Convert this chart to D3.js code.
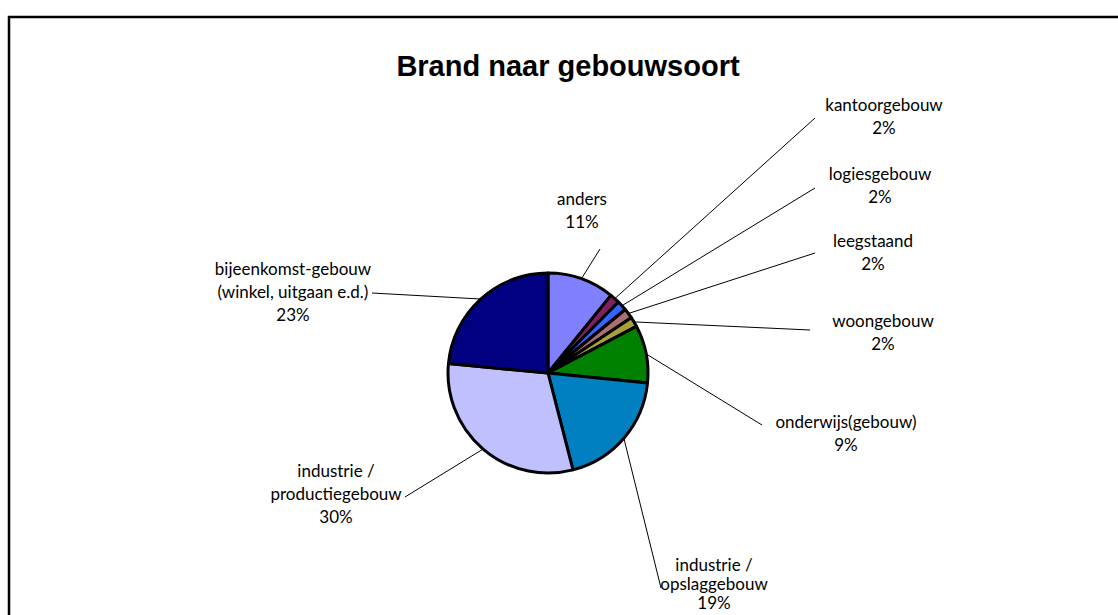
<!DOCTYPE html>
<html>
<head>
<meta charset="utf-8">
<script src="https://cdn.jsdelivr.net/npm/d3@7"></script>
<style>
  body { margin: 0; background: #fff; }
  svg { display: block; }
  .lbl { font-family: Lato, "Open Sans", sans-serif; font-size: 17px; fill: #000; }
</style>
</head>
<body>
<svg width="1118" height="615"></svg>
<script>
// slices, clockwise from 12 o'clock
const categories = ['anders', 'kantoorgebouw', 'logiesgebouw', 'leegstaand', 'woongebouw',
  'onderwijs(gebouw)', 'industrie / opslaggebouw', 'industrie / productiegebouw',
  'bijeenkomst-gebouw (winkel, uitgaan e.d.)']
const values = [10.8, 1.6, 1.6, 1.6, 1.6, 9.3, 19.3, 30.4, 23.4]
const labelLines = [
  ['anders'], ['kantoorgebouw'], ['logiesgebouw'], ['leegstaand'], ['woongebouw'],
  ['onderwijs(gebouw)'], ['industrie /', 'opslaggebouw'], ['industrie /', 'productiegebouw'],
  ['bijeenkomst-gebouw', '(winkel, uitgaan e.d.)']
]
const colors = ['#8080ff', '#802060', '#3366ff', '#a87070', '#a8a038', '#008000', '#0080c0', '#c0c0ff', '#000080']

// label layout: text centre x, first baseline y, line spacing, leader end (ex, ey)
const labelPos = [
  {x: 582, y: 205, h: 23, ex: 600, ey: 249},
  {x: 884, y: 111, h: 23, ex: 815, ey: 118},
  {x: 880, y: 180, h: 23, ex: 815, ey: 188},
  {x: 873, y: 247, h: 23, ex: 815, ey: 253},
  {x: 883, y: 327, h: 23, ex: 810, ey: 330},
  {x: 846, y: 428, h: 23, ex: 762, ey: 425},
  {x: 714, y: 571, h: 19, ex: 661, ey: 588},
  {x: 336, y: 477, h: 23, ex: 405, ey: 497},
  {x: 293, y: 275, h: 23, ex: 372, ey: 293}
]

const svg = d3.select('svg')
const cx = 548, cy = 373, r = 100

svg.append('rect')
  .attr('x', 9).attr('y', 17)
  .attr('width', 1130).attr('height', 640)
  .attr('fill', 'none').attr('stroke', '#000').attr('stroke-width', 2.5)

svg.append('text')
  .attr('x', 568).attr('y', 76)
  .attr('text-anchor', 'middle')
  .style('font-family', 'Arial, "Liberation Sans", sans-serif')
  .style('font-weight', 'bold')
  .style('font-size', '29px')
  .text('Brand naar gebouwsoort')

const pie = d3.pie().sort(null).value(d => d)
const arcs = pie(values)
const arc = d3.arc().innerRadius(0).outerRadius(r)

const g = svg.append('g').attr('transform', `translate(${cx},${cy})`)

// leader lines
svg.append('g').selectAll('line')
  .data(arcs)
  .join('line')
  .attr('x1', d => cx + r * Math.sin((d.startAngle + d.endAngle) / 2))
  .attr('y1', d => cy - r * Math.cos((d.startAngle + d.endAngle) / 2))
  .attr('x2', (d, i) => labelPos[i].ex)
  .attr('y2', (d, i) => labelPos[i].ey)
  .attr('stroke', '#000')
  .attr('stroke-width', 1)

g.selectAll('path')
  .data(arcs)
  .join('path')
  .attr('d', arc)
  .attr('fill', (d, i) => colors[i])
  .attr('stroke', '#000')
  .attr('stroke-width', 3)
  .attr('stroke-linejoin', 'round')

// labels
const lab = svg.append('g').selectAll('text')
  .data(arcs)
  .join('text')
  .attr('class', 'lbl')
  .attr('text-anchor', 'middle')

lab.each(function(d, i) {
  const t = d3.select(this)
  const p = labelPos[i]
  const lines = labelLines[i].concat([Math.round(values[i]) + '%'])
  lines.forEach((s, k) => {
    t.append('tspan')
      .attr('x', p.x)
      .attr('y', p.y + k * p.h)
      .text(s)
  })
})
</script>
</body>
</html>
